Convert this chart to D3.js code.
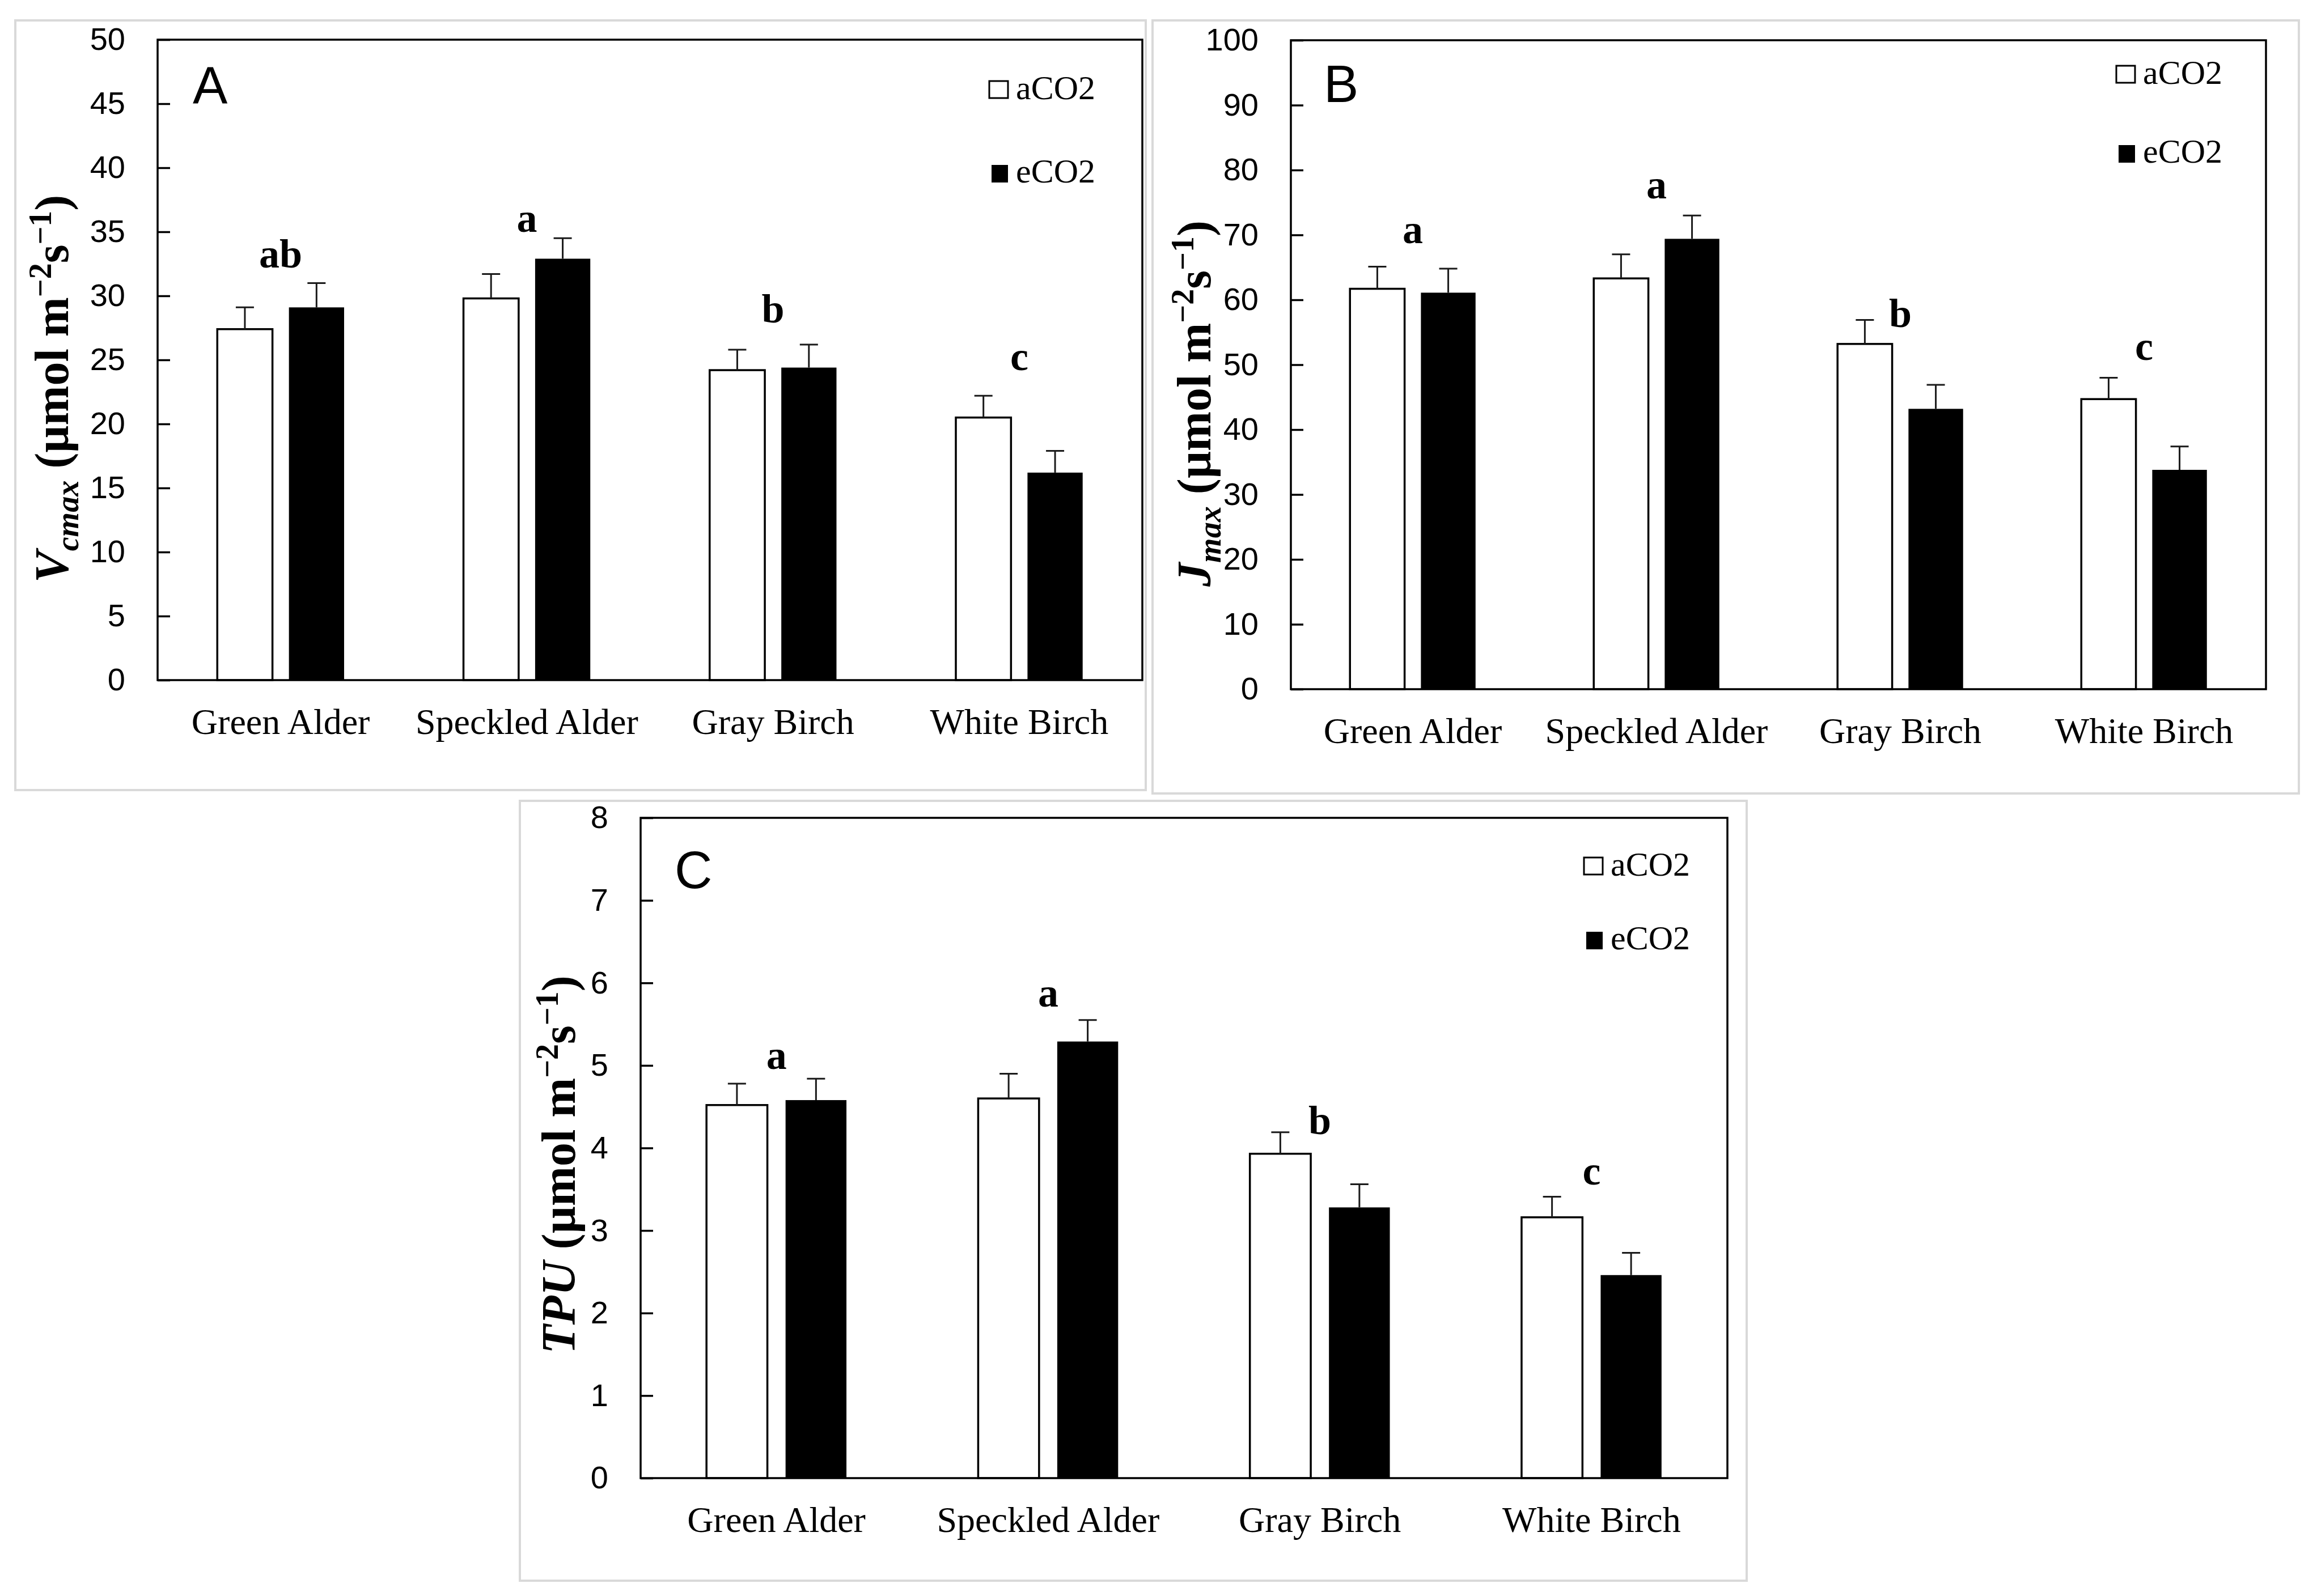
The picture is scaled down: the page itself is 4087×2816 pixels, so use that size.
<!DOCTYPE html>
<html>
<head>
<meta charset="utf-8">
<script src="https://cdn.jsdelivr.net/npm/d3@7"></script>
<style>
  body { margin: 0; background: #fff; }
  .tick text { font-family: "Liberation Sans", Arial, sans-serif; }
  .cat text { font-family: "Liberation Serif", "Times New Roman", serif; }
</style>
</head>
<body>
<script>
// ---- data ----
var species = ["Green Alder", "Speckled Alder", "Gray Birch", "White Birch"];
var treatments = ["aCO2", "eCO2"];

var vcmaxAmb = [27.4, 29.8, 24.2, 20.5];
var vcmaxElev = [29.1, 32.9, 24.4, 16.2];
var vcmaxAmbErr = [1.7, 1.9, 1.6, 1.7];
var vcmaxElevErr = [1.9, 1.6, 1.8, 1.7];
var vcmaxLetters = ["ab", "a", "b", "c"];
var vcmaxLetterY = [32.2, 35.0, 27.9, 24.2];

var jmaxAmb = [61.7, 63.3, 53.2, 44.7];
var jmaxElev = [61.1, 69.4, 43.2, 33.8];
var jmaxAmbErr = [3.4, 3.7, 3.7, 3.3];
var jmaxElevErr = [3.7, 3.6, 3.7, 3.6];
var jmaxLetters = ["a", "a", "b", "c"];
var jmaxLetterY = [68.7, 75.6, 55.8, 50.7];

var tpuAmb = [4.52, 4.60, 3.93, 3.16];
var tpuElev = [4.58, 5.29, 3.28, 2.46];
var tpuAmbErr = [0.26, 0.30, 0.26, 0.25];
var tpuElevErr = [0.26, 0.26, 0.28, 0.27];
var tpuLetters = ["a", "a", "b", "c"];
var tpuLetterY = [4.96, 5.71, 4.17, 3.56];

var yTicksA = d3.range(0, 51, 5);
var yTicksB = d3.range(0, 101, 10);
var yTicksC = d3.range(0, 9, 1);

// ---- layout of the three panels ----
var panels = [
  {name: "A", box: [27, 36, 2021, 1394], plot: {l: 278, r: 2015, t: 70, b: 1200},
   yMax: 50, ticks: yTicksA, amb: vcmaxAmb, elev: vcmaxElev, ambErr: vcmaxAmbErr, elevErr: vcmaxElevErr,
   letters: vcmaxLetters, letterY: vcmaxLetterY,
   tag: {dx: 62, dy: 113}, legend: {dx: -272, r1: 105, r2: 252},
   title: {x: 91, y: 686, sym: "V", sub: "cmax"}},
  {name: "B", box: [2033, 36, 4055, 1400], plot: {l: 2277, r: 3997, t: 71, b: 1216},
   yMax: 100, ticks: yTicksB, amb: jmaxAmb, elev: jmaxElev, ambErr: jmaxAmbErr, elevErr: jmaxElevErr,
   letters: jmaxLetters, letterY: jmaxLetterY,
   tag: {dx: 58, dy: 109}, legend: {dx: -266, r1: 77, r2: 216},
   title: {x: 2106, y: 712, sym: "J", sub: "max"}},
  {name: "C", box: [917, 1413, 3081, 2789], plot: {l: 1130, r: 3047, t: 1443, b: 2608},
   yMax: 8, ticks: yTicksC, amb: tpuAmb, elev: tpuElev, ambErr: tpuAmbErr, elevErr: tpuElevErr,
   letters: tpuLetters, letterY: tpuLetterY,
   tag: {dx: 60, dy: 124}, legend: {dx: -255, r1: 102, r2: 232},
   title: {x: 985, y: 2055, sym: "TPU", sub: ""}}
];

var svg = d3.select("body").append("svg")
    .attr("width", 4087)
    .attr("height", 2816);

panels.forEach(function(p) {
    var g = svg.append("g");

    // light grey frame round each panel
    g.append("rect")
        .attr("x", p.box[0]).attr("y", p.box[1])
        .attr("width", p.box[2] - p.box[0]).attr("height", p.box[3] - p.box[1])
        .attr("fill", "#fff").attr("stroke", "#d9d9d9").attr("stroke-width", 4);

    var x = d3.scaleBand().domain(species).range([p.plot.l, p.plot.r]);
    var xSub = d3.scaleBand().domain(treatments).range([0, x.bandwidth()])
        .paddingInner(0.23).paddingOuter(0.833);
    var y = d3.scaleLinear().domain([0, p.yMax]).range([p.plot.b, p.plot.t]);

    var rows = species.map(function(s, i) {
        return [
            {sp: s, tr: "aCO2", v: p.amb[i], e: p.ambErr[i]},
            {sp: s, tr: "eCO2", v: p.elev[i], e: p.elevErr[i]}
        ];
    });
    var flat = [].concat.apply([], rows);

    // bars
    g.selectAll("rect.bar")
        .data(flat)
        .enter()
        .append("rect")
        .attr("class", "bar")
        .attr("x", d => x(d.sp) + xSub(d.tr))
        .attr("y", d => y(d.v))
        .attr("width", xSub.bandwidth())
        .attr("height", d => y(0) - y(d.v))
        .attr("fill", d => d.tr == "aCO2" ? "#fff" : "#000")
        .attr("stroke", "#000")
        .attr("stroke-width", d => d.tr == "aCO2" ? 3.5 : 0);

    // upper error bars
    var eb = g.selectAll("g.err")
        .data(flat)
        .enter()
        .append("g")
        .attr("class", "err")
        .attr("transform", d => "translate(" + (x(d.sp) + xSub(d.tr) + xSub.bandwidth() / 2) + ",0)");
    eb.append("line")
        .attr("x1", 0).attr("x2", 0)
        .attr("y1", d => y(d.v)).attr("y2", d => y(d.v + d.e))
        .attr("stroke", "#1a1a1a").attr("stroke-width", 3);
    eb.append("line")
        .attr("x1", -16).attr("x2", 16)
        .attr("y1", d => y(d.v + d.e)).attr("y2", d => y(d.v + d.e))
        .attr("stroke", "#1a1a1a").attr("stroke-width", 3);

    // significance letters
    g.selectAll("text.sig")
        .data(species)
        .enter()
        .append("text")
        .attr("class", "sig")
        .attr("x", d => x(d) + x.bandwidth() / 2)
        .attr("y", (d, i) => y(p.letterY[i]))
        .attr("text-anchor", "middle")
        .style("font-family", "'Liberation Serif', 'Times New Roman', serif")
        .style("font-weight", "bold")
        .style("font-size", "72px")
        .text((d, i) => p.letters[i]);

    // y axis with inward ticks
    var yAxis = d3.axisLeft(y)
        .tickValues(p.ticks)
        .tickSizeInner(-22)
        .tickSizeOuter(0)
        .tickPadding(57);
    var ya = g.append("g")
        .attr("transform", "translate(" + p.plot.l + ",0)")
        .call(yAxis);
    ya.select(".domain").remove();
    ya.selectAll(".tick line").attr("stroke", "#000").attr("stroke-width", 3.5);
    ya.selectAll(".tick text")
        .style("font-size", "56px")
        .attr("fill", "#000");

    // category labels
    var xa = g.append("g")
        .attr("class", "cat")
        .attr("transform", "translate(0," + p.plot.b + ")")
        .call(d3.axisBottom(x).tickSize(0).tickPadding(50));
    xa.select(".domain").remove();
    xa.selectAll(".tick text")
        .style("font-family", "'Liberation Serif', 'Times New Roman', serif")
        .style("font-size", "64px")
        .attr("fill", "#000");

    // plot frame
    g.append("rect")
        .attr("x", p.plot.l).attr("y", p.plot.t)
        .attr("width", p.plot.r - p.plot.l).attr("height", p.plot.b - p.plot.t)
        .attr("fill", "none").attr("stroke", "#000").attr("stroke-width", 3.5);

    // panel letter
    g.append("text")
        .attr("x", p.plot.l + p.tag.dx)
        .attr("y", p.plot.t + p.tag.dy)
        .style("font-family", "'Liberation Sans', Arial, sans-serif")
        .style("font-size", "92px")
        .text(p.name);

    // legend
    var lx = p.plot.r + p.legend.dx;
    g.append("rect")
        .attr("x", lx + 2).attr("y", p.plot.t + p.legend.r1 - 32)
        .attr("width", 33).attr("height", 30)
        .attr("fill", "#fff").attr("stroke", "#000").attr("stroke-width", 3);
    g.append("rect")
        .attr("x", lx + 6).attr("y", p.plot.t + p.legend.r2 - 31)
        .attr("width", 29).attr("height", 31)
        .attr("fill", "#000");
    [p.legend.r1, p.legend.r2].forEach(function(r, i) {
        g.append("text")
            .attr("x", lx + 49)
            .attr("y", p.plot.t + r)
            .style("font-family", "'Liberation Serif', 'Times New Roman', serif")
            .style("font-size", "60px")
            .text(treatments[i]);
    });

    // y axis title
    var t = g.append("text")
        .attr("transform", "translate(" + p.title.x + "," + p.title.y + ") rotate(-90)")
        .attr("text-anchor", "middle")
        .attr("dy", "0.35em")
        .style("font-family", "'Liberation Serif', 'Times New Roman', serif")
        .style("font-weight", "bold")
        .style("font-size", "84px");
    t.append("tspan").style("font-style", "italic").text(p.title.sym);
    if (p.title.sub) {
        t.append("tspan").style("font-style", "italic").style("font-size", "56px")
            .attr("dy", 18).text(p.title.sub);
        t.append("tspan").attr("dy", -18).text(" (µmol m");
    } else {
        t.append("tspan").text(" (µmol m");
    }
    t.append("tspan").style("font-size", "56px").attr("dy", -30).text("−2");
    t.append("tspan").attr("dy", 30).text("s");
    t.append("tspan").style("font-size", "56px").attr("dy", -30).text("−1");
    t.append("tspan").attr("dy", 30).text(")");
});
</script>
</body>
</html>
